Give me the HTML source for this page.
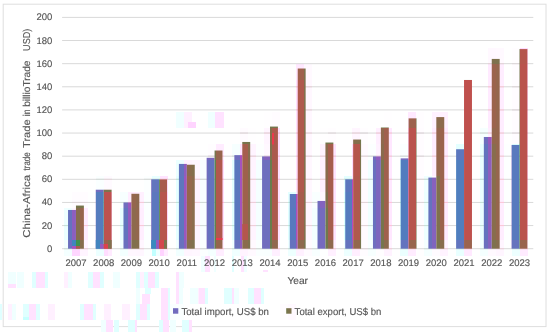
<!DOCTYPE html>
<html><head><meta charset="utf-8"><title>China-Africa trade</title>
<style>html,body{margin:0;padding:0;background:#fff}svg{display:block}text{font-family:"Liberation Sans",sans-serif;fill:#575757;stroke:#575757;stroke-width:0.15px;text-rendering:geometricPrecision}</style></head>
<body>
<svg width="550" height="332" viewBox="0 0 550 332">
<rect x="0" y="0" width="550" height="332" fill="#fff"/>
<rect x="3.2" y="4.2" width="542.8" height="322.4" fill="#fff" stroke="#dedede" stroke-width="1"/>
<g shape-rendering="crispEdges">
<rect x="64" y="208" width="8" height="16" fill="#eeffff"/>
<rect x="64" y="224" width="8" height="16" fill="#ebffff"/>
<rect x="64" y="240" width="8" height="16" fill="#f4ffff"/>
<rect x="72" y="192" width="8" height="16" fill="#fffcff"/>
<rect x="72" y="208" width="8" height="16" fill="#fff4ff"/>
<rect x="72" y="224" width="8" height="16" fill="#fff5ff"/>
<rect x="72" y="240" width="8" height="16" fill="#fff9ff"/>
<rect x="80" y="192" width="8" height="16" fill="#fffcff"/>
<rect x="80" y="208" width="8" height="32" fill="#ffecff"/>
<rect x="80" y="240" width="8" height="16" fill="#fff4ff"/>
<rect x="88" y="192" width="8" height="48" fill="#feffff"/>
<rect x="96" y="176" width="8" height="16" fill="#faffff"/>
<rect x="96" y="192" width="8" height="48" fill="#dcffff"/>
<rect x="96" y="240" width="8" height="16" fill="#ecffff"/>
<rect x="104" y="176" width="8" height="16" fill="#fffaff"/>
<rect x="104" y="192" width="8" height="48" fill="#ffd9ff"/>
<rect x="104" y="240" width="8" height="16" fill="#ffeaff"/>
<rect x="120" y="192" width="8" height="16" fill="#f7ffff"/>
<rect x="120" y="208" width="8" height="32" fill="#e8ffff"/>
<rect x="120" y="240" width="8" height="16" fill="#f3ffff"/>
<rect x="128" y="192" width="8" height="16" fill="#ffedff"/>
<rect x="128" y="208" width="8" height="32" fill="#fff1ff"/>
<rect x="128" y="240" width="8" height="16" fill="#fff7ff"/>
<rect x="136" y="192" width="8" height="16" fill="#fff0ff"/>
<rect x="136" y="208" width="8" height="32" fill="#ffeeff"/>
<rect x="136" y="240" width="8" height="16" fill="#fff6ff"/>
<rect x="144" y="176" width="8" height="16" fill="#fcffff"/>
<rect x="144" y="192" width="8" height="48" fill="#fbffff"/>
<rect x="144" y="240" width="8" height="16" fill="#fdffff"/>
<rect x="152" y="176" width="8" height="16" fill="#e9ffff"/>
<rect x="152" y="192" width="8" height="48" fill="#e4ffff"/>
<rect x="152" y="240" width="8" height="16" fill="#f0ffff"/>
<rect x="160" y="176" width="8" height="16" fill="#ffe3ff"/>
<rect x="160" y="192" width="8" height="48" fill="#ffdcff"/>
<rect x="160" y="240" width="8" height="16" fill="#ffecff"/>
<rect x="168" y="304" width="8" height="16" fill="#faffff"/>
<rect x="176" y="160" width="8" height="16" fill="#ecffff"/>
<rect x="176" y="176" width="8" height="64" fill="#e5ffff"/>
<rect x="176" y="240" width="8" height="16" fill="#f1ffff"/>
<rect x="176" y="304" width="8" height="16" fill="#fbffff"/>
<rect x="184" y="160" width="8" height="16" fill="#fff2ff"/>
<rect x="184" y="176" width="8" height="64" fill="#ffecff"/>
<rect x="184" y="240" width="8" height="16" fill="#fff5ff"/>
<rect x="192" y="160" width="8" height="16" fill="#fff5ff"/>
<rect x="192" y="176" width="8" height="64" fill="#fff1ff"/>
<rect x="192" y="240" width="8" height="16" fill="#fff7ff"/>
<rect x="200" y="160" width="8" height="80" fill="#f8ffff"/>
<rect x="200" y="240" width="8" height="16" fill="#fbffff"/>
<rect x="208" y="144" width="8" height="16" fill="#fffdff"/>
<rect x="208" y="160" width="8" height="80" fill="#ecffff"/>
<rect x="208" y="240" width="8" height="16" fill="#f5ffff"/>
<rect x="216" y="144" width="8" height="16" fill="#ffecff"/>
<rect x="216" y="160" width="8" height="80" fill="#ffdeff"/>
<rect x="216" y="240" width="8" height="16" fill="#ffedff"/>
<rect x="232" y="144" width="8" height="16" fill="#f6ffff"/>
<rect x="232" y="160" width="8" height="80" fill="#e3ffff"/>
<rect x="232" y="240" width="8" height="16" fill="#f0ffff"/>
<rect x="240" y="128" width="8" height="16" fill="#fffbff"/>
<rect x="240" y="144" width="8" height="16" fill="#ffe4ff"/>
<rect x="240" y="160" width="8" height="80" fill="#ffe8ff"/>
<rect x="240" y="240" width="8" height="16" fill="#fff3ff"/>
<rect x="248" y="128" width="8" height="16" fill="#fffeff"/>
<rect x="248" y="144" width="8" height="96" fill="#fff4ff"/>
<rect x="248" y="240" width="8" height="16" fill="#fff9ff"/>
<rect x="256" y="144" width="8" height="16" fill="#fdffff"/>
<rect x="256" y="160" width="8" height="80" fill="#f5ffff"/>
<rect x="256" y="240" width="8" height="16" fill="#faffff"/>
<rect x="264" y="112" width="8" height="16" fill="#fffeff"/>
<rect x="264" y="128" width="8" height="16" fill="#fff5ff"/>
<rect x="264" y="144" width="8" height="16" fill="#fff8ff"/>
<rect x="264" y="160" width="8" height="80" fill="#f5ffff"/>
<rect x="264" y="240" width="8" height="16" fill="#f9ffff"/>
<rect x="272" y="112" width="8" height="16" fill="#fffcff"/>
<rect x="272" y="128" width="8" height="112" fill="#ffe1ff"/>
<rect x="272" y="240" width="8" height="16" fill="#ffefff"/>
<rect x="280" y="304" width="8" height="16" fill="#fffcff"/>
<rect x="288" y="192" width="8" height="16" fill="#e4ffff"/>
<rect x="288" y="208" width="8" height="32" fill="#e0ffff"/>
<rect x="288" y="240" width="8" height="16" fill="#eeffff"/>
<rect x="288" y="304" width="8" height="16" fill="#fff9ff"/>
<rect x="296" y="64" width="8" height="16" fill="#ffe8ff"/>
<rect x="296" y="80" width="8" height="112" fill="#ffdfff"/>
<rect x="296" y="192" width="8" height="16" fill="#ffe3ff"/>
<rect x="296" y="208" width="8" height="32" fill="#ffe4ff"/>
<rect x="296" y="240" width="8" height="16" fill="#fff0ff"/>
<rect x="304" y="64" width="8" height="16" fill="#fff9ff"/>
<rect x="304" y="80" width="8" height="160" fill="#fff7ff"/>
<rect x="304" y="240" width="8" height="16" fill="#fffbff"/>
<rect x="312" y="192" width="8" height="16" fill="#f9ffff"/>
<rect x="312" y="208" width="8" height="32" fill="#f3ffff"/>
<rect x="312" y="240" width="8" height="16" fill="#f8ffff"/>
<rect x="320" y="128" width="8" height="16" fill="#fffeff"/>
<rect x="320" y="144" width="8" height="48" fill="#fff2ff"/>
<rect x="320" y="192" width="8" height="16" fill="#fff8ff"/>
<rect x="320" y="208" width="8" height="32" fill="#fdffff"/>
<rect x="320" y="240" width="8" height="16" fill="#feffff"/>
<rect x="328" y="128" width="8" height="16" fill="#fffdff"/>
<rect x="328" y="144" width="8" height="96" fill="#ffe4ff"/>
<rect x="328" y="240" width="8" height="16" fill="#fff0ff"/>
<rect x="344" y="176" width="8" height="16" fill="#e4ffff"/>
<rect x="344" y="192" width="8" height="48" fill="#ddffff"/>
<rect x="344" y="240" width="8" height="16" fill="#edffff"/>
<rect x="352" y="128" width="8" height="16" fill="#fff5ff"/>
<rect x="352" y="144" width="8" height="32" fill="#ffddff"/>
<rect x="352" y="176" width="8" height="16" fill="#ffdfff"/>
<rect x="352" y="192" width="8" height="48" fill="#ffe0ff"/>
<rect x="352" y="240" width="8" height="16" fill="#ffeeff"/>
<rect x="360" y="128" width="8" height="16" fill="#fffdff"/>
<rect x="360" y="144" width="8" height="96" fill="#fffaff"/>
<rect x="360" y="240" width="8" height="16" fill="#fffcff"/>
<rect x="368" y="144" width="8" height="16" fill="#fcffff"/>
<rect x="368" y="160" width="8" height="80" fill="#f0ffff"/>
<rect x="368" y="240" width="8" height="16" fill="#f7ffff"/>
<rect x="376" y="128" width="8" height="16" fill="#ffefff"/>
<rect x="376" y="144" width="8" height="16" fill="#fff2ff"/>
<rect x="376" y="160" width="8" height="80" fill="#fffcff"/>
<rect x="376" y="240" width="8" height="16" fill="#fffdff"/>
<rect x="384" y="112" width="8" height="16" fill="#fffeff"/>
<rect x="384" y="128" width="8" height="112" fill="#ffe7ff"/>
<rect x="384" y="240" width="8" height="16" fill="#fff2ff"/>
<rect x="400" y="144" width="8" height="16" fill="#fbffff"/>
<rect x="400" y="160" width="8" height="80" fill="#daffff"/>
<rect x="400" y="240" width="8" height="16" fill="#ebffff"/>
<rect x="408" y="112" width="8" height="16" fill="#ffe9ff"/>
<rect x="408" y="128" width="8" height="32" fill="#ffdaff"/>
<rect x="408" y="160" width="8" height="80" fill="#ffdbff"/>
<rect x="408" y="240" width="8" height="16" fill="#ffecff"/>
<rect x="416" y="112" width="8" height="16" fill="#fffdff"/>
<rect x="416" y="128" width="8" height="112" fill="#fffcff"/>
<rect x="416" y="240" width="8" height="16" fill="#fffeff"/>
<rect x="424" y="176" width="8" height="16" fill="#efffff"/>
<rect x="424" y="192" width="8" height="48" fill="#edffff"/>
<rect x="424" y="240" width="8" height="16" fill="#f5ffff"/>
<rect x="432" y="112" width="8" height="16" fill="#fff2ff"/>
<rect x="432" y="128" width="8" height="48" fill="#ffedff"/>
<rect x="432" y="176" width="8" height="16" fill="#fff7ff"/>
<rect x="432" y="192" width="8" height="48" fill="#fff8ff"/>
<rect x="432" y="240" width="8" height="16" fill="#fffbff"/>
<rect x="440" y="112" width="8" height="16" fill="#fff0ff"/>
<rect x="440" y="128" width="8" height="112" fill="#ffeaff"/>
<rect x="440" y="240" width="8" height="16" fill="#fff3ff"/>
<rect x="456" y="144" width="8" height="16" fill="#e4ffff"/>
<rect x="456" y="160" width="8" height="80" fill="#d7ffff"/>
<rect x="456" y="240" width="8" height="16" fill="#e9ffff"/>
<rect x="464" y="80" width="8" height="160" fill="#ffd7ff"/>
<rect x="464" y="240" width="8" height="16" fill="#ffe9ff"/>
<rect x="480" y="128" width="8" height="16" fill="#f6ffff"/>
<rect x="480" y="144" width="8" height="96" fill="#eaffff"/>
<rect x="480" y="240" width="8" height="16" fill="#f4ffff"/>
<rect x="488" y="48" width="8" height="16" fill="#fff8ff"/>
<rect x="488" y="64" width="8" height="64" fill="#ffeaff"/>
<rect x="488" y="128" width="8" height="16" fill="#ffeeff"/>
<rect x="488" y="144" width="8" height="96" fill="#fff3ff"/>
<rect x="488" y="240" width="8" height="16" fill="#fff9ff"/>
<rect x="496" y="48" width="8" height="16" fill="#fff9ff"/>
<rect x="496" y="64" width="8" height="176" fill="#ffedff"/>
<rect x="496" y="240" width="8" height="16" fill="#fff5ff"/>
<rect x="504" y="144" width="8" height="96" fill="#fdffff"/>
<rect x="504" y="240" width="8" height="16" fill="#feffff"/>
<rect x="512" y="48" width="8" height="16" fill="#fffdff"/>
<rect x="512" y="64" width="8" height="80" fill="#fffcff"/>
<rect x="512" y="144" width="8" height="16" fill="#e1ffff"/>
<rect x="512" y="160" width="8" height="80" fill="#dfffff"/>
<rect x="512" y="240" width="8" height="16" fill="#edffff"/>
<rect x="520" y="48" width="8" height="16" fill="#ffdcff"/>
<rect x="520" y="64" width="8" height="176" fill="#ffdaff"/>
<rect x="520" y="240" width="8" height="16" fill="#ffebff"/>
<rect x="8" y="272" width="8" height="12" fill="#f0ffff"/>
<rect x="8" y="284" width="8" height="4" fill="#ffe2ff"/>
<rect x="17" y="272" width="7" height="16" fill="#f0ffff"/>
<rect x="32" y="272" width="4" height="16" fill="#e0ffff"/>
<rect x="36" y="272" width="8.5" height="16" fill="#ffe2ff"/>
<rect x="44.5" y="272" width="3.5" height="16" fill="#e0ffff"/>
<rect x="64" y="272" width="4" height="16" fill="#fff0ff"/>
<rect x="68" y="272" width="4" height="16" fill="#f0ffff"/>
<rect x="88" y="272" width="5" height="16" fill="#e0ffff"/>
<rect x="93" y="272" width="7" height="16" fill="#ffe2ff"/>
<rect x="100" y="272" width="4" height="16" fill="#e0ffff"/>
<rect x="113" y="272" width="7" height="16" fill="#f0ffff"/>
<rect x="136" y="272" width="4" height="16" fill="#e0ffff"/>
<rect x="140" y="272" width="4" height="16" fill="#fff0ff"/>
<rect x="144" y="272" width="4" height="16" fill="#e0ffff"/>
<rect x="148" y="272" width="7" height="16" fill="#ffe2ff"/>
<rect x="155" y="272" width="4" height="16" fill="#e0ffff"/>
<rect x="176" y="272" width="3" height="16" fill="#ffe2ff"/>
<rect x="179" y="272" width="5" height="16" fill="#f0ffff"/>
<rect x="136" y="288" width="4" height="16" fill="#f0ffff"/>
<rect x="142" y="294" width="8" height="10" fill="#ffe2ff"/>
<rect x="145" y="288" width="6" height="6" fill="#e0ffff"/>
<rect x="161" y="288" width="7" height="16" fill="#ffe2ff"/>
<rect x="168" y="288" width="2" height="16" fill="#e0ffff"/>
<rect x="176" y="288" width="3" height="16" fill="#ffe2ff"/>
<rect x="179" y="288" width="4" height="16" fill="#f0ffff"/>
<rect x="198" y="288" width="4" height="16" fill="#fff0ff"/>
<rect x="203" y="288" width="5" height="16" fill="#f0ffff"/>
<rect x="0" y="304" width="2" height="16" fill="#e0ffff"/>
<rect x="8" y="304" width="4" height="16" fill="#fff0ff"/>
<rect x="12" y="304" width="4" height="16" fill="#f0ffff"/>
<rect x="23" y="304" width="6" height="13" fill="#e0ffff"/>
<rect x="23" y="317" width="6" height="3" fill="#c8ffff"/>
<rect x="29" y="304" width="7" height="16" fill="#ffe2ff"/>
<rect x="36" y="304" width="4" height="16" fill="#e0ffff"/>
<rect x="48" y="304" width="7" height="16" fill="#fff0ff"/>
<rect x="79.5" y="304" width="4.5" height="16" fill="#e0ffff"/>
<rect x="84" y="304" width="9" height="16" fill="#ffe2ff"/>
<rect x="93" y="304" width="3" height="16" fill="#e0ffff"/>
<rect x="104" y="304" width="7" height="16" fill="#fff0ff"/>
<rect x="122" y="304" width="8" height="16" fill="#fff0ff"/>
<rect x="136" y="304" width="4" height="16" fill="#e0ffff"/>
<rect x="140" y="304" width="7" height="16" fill="#ffe2ff"/>
<rect x="147" y="304" width="3" height="16" fill="#e0ffff"/>
<rect x="161" y="304" width="7" height="16" fill="#ffe2ff"/>
<rect x="168" y="304" width="2" height="16" fill="#e0ffff"/>
<rect x="176" y="112" width="8" height="16" fill="#f0ffff"/>
<rect x="184" y="112" width="8" height="16" fill="#fff0ff"/>
<rect x="188" y="122" width="8" height="6" fill="#ffd4ff"/>
<rect x="208" y="112" width="7" height="16" fill="#f0ffff"/>
<rect x="215" y="112" width="9" height="16" fill="#ffe2ff"/>
<rect x="201" y="256" width="4" height="16" fill="#f0ffff"/>
<rect x="205" y="256" width="5" height="16" fill="#ffe2ff"/>
<rect x="214" y="256" width="2" height="16" fill="#f0ffff"/>
<rect x="232" y="256" width="2" height="16" fill="#e0ffff"/>
<rect x="241" y="256" width="3" height="16" fill="#ffe2ff"/>
<rect x="244" y="256" width="3" height="16" fill="#f0ffff"/>
<rect x="263" y="270" width="5" height="2" fill="#ffe2ff"/>
<rect x="190" y="288" width="8" height="16" fill="#f0ffff"/>
<rect x="199" y="288" width="6" height="16" fill="#ffe2ff"/>
<rect x="205" y="288" width="3" height="16" fill="#e0ffff"/>
<rect x="224" y="288" width="8" height="16" fill="#e0ffff"/>
<rect x="232" y="288" width="2" height="16" fill="#ffe2ff"/>
<rect x="234" y="288" width="5" height="16" fill="#f0ffff"/>
<rect x="248" y="288" width="6" height="16" fill="#e0ffff"/>
<rect x="254" y="288" width="7" height="16" fill="#ffe2ff"/>
<rect x="261" y="288" width="3" height="16" fill="#e0ffff"/>
<rect x="101" y="320" width="5" height="12" fill="#f0ffff"/>
<rect x="106" y="320" width="7" height="12" fill="#ffe2ff"/>
<rect x="114" y="320" width="5" height="12" fill="#e0ffff"/>
<rect x="128" y="320" width="7" height="12" fill="#e0ffff"/>
<rect x="135" y="320" width="2" height="12" fill="#ffe2ff"/>
<rect x="159" y="320" width="4" height="12" fill="#e0ffff"/>
<rect x="163" y="320" width="6" height="12" fill="#ffe2ff"/>
<rect x="170" y="320" width="6" height="12" fill="#f0ffff"/>
<rect x="182" y="320" width="7" height="12" fill="#e0ffff"/>
<rect x="189" y="320" width="3" height="12" fill="#ffe2ff"/>
<rect x="72" y="248.7" width="8" height="7.3" fill="#ffd6ff"/>
<rect x="104" y="248.7" width="4" height="7.3" fill="#ffddff"/>
<rect x="152" y="248.7" width="4" height="7.3" fill="#c1ffff"/>
<rect x="160" y="248.7" width="4" height="7.3" fill="#ffd3ff"/>
</g>
<line x1="62.1" y1="248.70" x2="533.3" y2="248.70" stroke="#d9d9d9" stroke-width="1"/>
<line x1="62.1" y1="225.57" x2="533.3" y2="225.57" stroke="#d9d9d9" stroke-width="1"/>
<line x1="62.1" y1="202.44" x2="533.3" y2="202.44" stroke="#d9d9d9" stroke-width="1"/>
<line x1="62.1" y1="179.31" x2="533.3" y2="179.31" stroke="#d9d9d9" stroke-width="1"/>
<line x1="62.1" y1="156.18" x2="533.3" y2="156.18" stroke="#d9d9d9" stroke-width="1"/>
<line x1="62.1" y1="133.05" x2="533.3" y2="133.05" stroke="#d9d9d9" stroke-width="1"/>
<line x1="62.1" y1="109.92" x2="533.3" y2="109.92" stroke="#d9d9d9" stroke-width="1"/>
<line x1="62.1" y1="86.79" x2="533.3" y2="86.79" stroke="#d9d9d9" stroke-width="1"/>
<line x1="62.1" y1="63.66" x2="533.3" y2="63.66" stroke="#d9d9d9" stroke-width="1"/>
<line x1="62.1" y1="40.53" x2="533.3" y2="40.53" stroke="#d9d9d9" stroke-width="1"/>
<line x1="62.1" y1="17.40" x2="533.3" y2="17.40" stroke="#d9d9d9" stroke-width="1"/>
<line x1="64.0" y1="225.57" x2="72.0" y2="225.57" stroke="#c5e3d9" stroke-width="1"/>
<line x1="64.0" y1="248.70" x2="72.0" y2="248.70" stroke="#cedfd9" stroke-width="1"/>
<line x1="72.0" y1="202.44" x2="80.0" y2="202.44" stroke="#dfd6d9" stroke-width="1"/>
<line x1="72.0" y1="225.57" x2="80.0" y2="225.57" stroke="#edcfd9" stroke-width="1"/>
<line x1="72.0" y1="248.70" x2="80.0" y2="248.70" stroke="#e4d3d9" stroke-width="1"/>
<line x1="80.0" y1="202.44" x2="88.0" y2="202.44" stroke="#dfd6d9" stroke-width="1"/>
<line x1="80.0" y1="225.57" x2="88.0" y2="225.57" stroke="#ffc6d9" stroke-width="1"/>
<line x1="80.0" y1="248.70" x2="88.0" y2="248.70" stroke="#eeced9" stroke-width="1"/>
<line x1="96.0" y1="179.31" x2="104.0" y2="179.31" stroke="#d4dcd9" stroke-width="1"/>
<line x1="96.0" y1="202.44" x2="104.0" y2="202.44" stroke="#b6ebd9" stroke-width="1"/>
<line x1="96.0" y1="225.57" x2="104.0" y2="225.57" stroke="#b6ebd9" stroke-width="1"/>
<line x1="96.0" y1="248.70" x2="104.0" y2="248.70" stroke="#c6e3d9" stroke-width="1"/>
<line x1="104.0" y1="179.31" x2="112.0" y2="179.31" stroke="#e4d4d9" stroke-width="1"/>
<line x1="104.0" y1="202.44" x2="112.0" y2="202.44" stroke="#ffb3d9" stroke-width="1"/>
<line x1="104.0" y1="225.57" x2="112.0" y2="225.57" stroke="#ffb3d9" stroke-width="1"/>
<line x1="104.0" y1="248.70" x2="112.0" y2="248.70" stroke="#ffc4d9" stroke-width="1"/>
<line x1="120.0" y1="202.44" x2="128.0" y2="202.44" stroke="#d1ddd9" stroke-width="1"/>
<line x1="120.0" y1="225.57" x2="128.0" y2="225.57" stroke="#c2e5d9" stroke-width="1"/>
<line x1="120.0" y1="248.70" x2="128.0" y2="248.70" stroke="#cddfd9" stroke-width="1"/>
<line x1="128.0" y1="202.44" x2="136.0" y2="202.44" stroke="#fbc7d9" stroke-width="1"/>
<line x1="128.0" y1="225.57" x2="136.0" y2="225.57" stroke="#f5cbd9" stroke-width="1"/>
<line x1="128.0" y1="248.70" x2="136.0" y2="248.70" stroke="#e8d1d9" stroke-width="1"/>
<line x1="136.0" y1="202.44" x2="144.0" y2="202.44" stroke="#f6cad9" stroke-width="1"/>
<line x1="136.0" y1="225.57" x2="144.0" y2="225.57" stroke="#fac8d9" stroke-width="1"/>
<line x1="136.0" y1="248.70" x2="144.0" y2="248.70" stroke="#ebd0d9" stroke-width="1"/>
<line x1="144.0" y1="179.31" x2="152.0" y2="179.31" stroke="#d6dbd9" stroke-width="1"/>
<line x1="144.0" y1="202.44" x2="152.0" y2="202.44" stroke="#d5dbd9" stroke-width="1"/>
<line x1="144.0" y1="225.57" x2="152.0" y2="225.57" stroke="#d5dbd9" stroke-width="1"/>
<line x1="152.0" y1="179.31" x2="160.0" y2="179.31" stroke="#c3e4d9" stroke-width="1"/>
<line x1="152.0" y1="202.44" x2="160.0" y2="202.44" stroke="#bee7d9" stroke-width="1"/>
<line x1="152.0" y1="225.57" x2="160.0" y2="225.57" stroke="#bee7d9" stroke-width="1"/>
<line x1="152.0" y1="248.70" x2="160.0" y2="248.70" stroke="#cae1d9" stroke-width="1"/>
<line x1="160.0" y1="179.31" x2="168.0" y2="179.31" stroke="#ffbdd9" stroke-width="1"/>
<line x1="160.0" y1="202.44" x2="168.0" y2="202.44" stroke="#ffb6d9" stroke-width="1"/>
<line x1="160.0" y1="225.57" x2="168.0" y2="225.57" stroke="#ffb6d9" stroke-width="1"/>
<line x1="160.0" y1="248.70" x2="168.0" y2="248.70" stroke="#ffc6d9" stroke-width="1"/>
<line x1="176.0" y1="179.31" x2="184.0" y2="179.31" stroke="#bfe6d9" stroke-width="1"/>
<line x1="176.0" y1="202.44" x2="184.0" y2="202.44" stroke="#bfe6d9" stroke-width="1"/>
<line x1="176.0" y1="225.57" x2="184.0" y2="225.57" stroke="#bfe6d9" stroke-width="1"/>
<line x1="176.0" y1="248.70" x2="184.0" y2="248.70" stroke="#cbe0d9" stroke-width="1"/>
<line x1="184.0" y1="179.31" x2="192.0" y2="179.31" stroke="#fec6d9" stroke-width="1"/>
<line x1="184.0" y1="202.44" x2="192.0" y2="202.44" stroke="#fec6d9" stroke-width="1"/>
<line x1="184.0" y1="225.57" x2="192.0" y2="225.57" stroke="#fec6d9" stroke-width="1"/>
<line x1="184.0" y1="248.70" x2="192.0" y2="248.70" stroke="#edcfd9" stroke-width="1"/>
<line x1="192.0" y1="179.31" x2="200.0" y2="179.31" stroke="#f4cbd9" stroke-width="1"/>
<line x1="192.0" y1="202.44" x2="200.0" y2="202.44" stroke="#f4cbd9" stroke-width="1"/>
<line x1="192.0" y1="225.57" x2="200.0" y2="225.57" stroke="#f4cbd9" stroke-width="1"/>
<line x1="192.0" y1="248.70" x2="200.0" y2="248.70" stroke="#e8d1d9" stroke-width="1"/>
<line x1="200.0" y1="179.31" x2="208.0" y2="179.31" stroke="#d2dcd9" stroke-width="1"/>
<line x1="200.0" y1="202.44" x2="208.0" y2="202.44" stroke="#d2dcd9" stroke-width="1"/>
<line x1="200.0" y1="225.57" x2="208.0" y2="225.57" stroke="#d2dcd9" stroke-width="1"/>
<line x1="200.0" y1="248.70" x2="208.0" y2="248.70" stroke="#d5dbd9" stroke-width="1"/>
<line x1="208.0" y1="156.18" x2="216.0" y2="156.18" stroke="#ddd7d9" stroke-width="1"/>
<line x1="208.0" y1="179.31" x2="216.0" y2="179.31" stroke="#c6e3d9" stroke-width="1"/>
<line x1="208.0" y1="202.44" x2="216.0" y2="202.44" stroke="#c6e3d9" stroke-width="1"/>
<line x1="208.0" y1="225.57" x2="216.0" y2="225.57" stroke="#c6e3d9" stroke-width="1"/>
<line x1="208.0" y1="248.70" x2="216.0" y2="248.70" stroke="#cfded9" stroke-width="1"/>
<line x1="216.0" y1="156.18" x2="224.0" y2="156.18" stroke="#ffc6d9" stroke-width="1"/>
<line x1="216.0" y1="179.31" x2="224.0" y2="179.31" stroke="#ffb8d9" stroke-width="1"/>
<line x1="216.0" y1="202.44" x2="224.0" y2="202.44" stroke="#ffb8d9" stroke-width="1"/>
<line x1="216.0" y1="225.57" x2="224.0" y2="225.57" stroke="#ffb8d9" stroke-width="1"/>
<line x1="216.0" y1="248.70" x2="224.0" y2="248.70" stroke="#fcc7d9" stroke-width="1"/>
<line x1="232.0" y1="156.18" x2="240.0" y2="156.18" stroke="#d0ddd9" stroke-width="1"/>
<line x1="232.0" y1="179.31" x2="240.0" y2="179.31" stroke="#bde7d9" stroke-width="1"/>
<line x1="232.0" y1="202.44" x2="240.0" y2="202.44" stroke="#bde7d9" stroke-width="1"/>
<line x1="232.0" y1="225.57" x2="240.0" y2="225.57" stroke="#bde7d9" stroke-width="1"/>
<line x1="232.0" y1="248.70" x2="240.0" y2="248.70" stroke="#cae1d9" stroke-width="1"/>
<line x1="240.0" y1="133.05" x2="248.0" y2="133.05" stroke="#e0d5d9" stroke-width="1"/>
<line x1="240.0" y1="156.18" x2="248.0" y2="156.18" stroke="#ffbed9" stroke-width="1"/>
<line x1="240.0" y1="179.31" x2="248.0" y2="179.31" stroke="#ffc2d9" stroke-width="1"/>
<line x1="240.0" y1="202.44" x2="248.0" y2="202.44" stroke="#ffc2d9" stroke-width="1"/>
<line x1="240.0" y1="225.57" x2="248.0" y2="225.57" stroke="#ffc2d9" stroke-width="1"/>
<line x1="240.0" y1="248.70" x2="248.0" y2="248.70" stroke="#f1cdd9" stroke-width="1"/>
<line x1="248.0" y1="156.18" x2="256.0" y2="156.18" stroke="#efced9" stroke-width="1"/>
<line x1="248.0" y1="179.31" x2="256.0" y2="179.31" stroke="#efced9" stroke-width="1"/>
<line x1="248.0" y1="202.44" x2="256.0" y2="202.44" stroke="#efced9" stroke-width="1"/>
<line x1="248.0" y1="225.57" x2="256.0" y2="225.57" stroke="#efced9" stroke-width="1"/>
<line x1="248.0" y1="248.70" x2="256.0" y2="248.70" stroke="#e5d3d9" stroke-width="1"/>
<line x1="256.0" y1="179.31" x2="264.0" y2="179.31" stroke="#cfded9" stroke-width="1"/>
<line x1="256.0" y1="202.44" x2="264.0" y2="202.44" stroke="#cfded9" stroke-width="1"/>
<line x1="256.0" y1="225.57" x2="264.0" y2="225.57" stroke="#cfded9" stroke-width="1"/>
<line x1="256.0" y1="248.70" x2="264.0" y2="248.70" stroke="#d4dcd9" stroke-width="1"/>
<line x1="264.0" y1="133.05" x2="272.0" y2="133.05" stroke="#edcfd9" stroke-width="1"/>
<line x1="264.0" y1="156.18" x2="272.0" y2="156.18" stroke="#e6d2d9" stroke-width="1"/>
<line x1="264.0" y1="179.31" x2="272.0" y2="179.31" stroke="#cfded9" stroke-width="1"/>
<line x1="264.0" y1="202.44" x2="272.0" y2="202.44" stroke="#cfded9" stroke-width="1"/>
<line x1="264.0" y1="225.57" x2="272.0" y2="225.57" stroke="#cfded9" stroke-width="1"/>
<line x1="264.0" y1="248.70" x2="272.0" y2="248.70" stroke="#d3dcd9" stroke-width="1"/>
<line x1="272.0" y1="133.05" x2="280.0" y2="133.05" stroke="#ffbbd9" stroke-width="1"/>
<line x1="272.0" y1="156.18" x2="280.0" y2="156.18" stroke="#ffbbd9" stroke-width="1"/>
<line x1="272.0" y1="179.31" x2="280.0" y2="179.31" stroke="#ffbbd9" stroke-width="1"/>
<line x1="272.0" y1="202.44" x2="280.0" y2="202.44" stroke="#ffbbd9" stroke-width="1"/>
<line x1="272.0" y1="225.57" x2="280.0" y2="225.57" stroke="#ffbbd9" stroke-width="1"/>
<line x1="272.0" y1="248.70" x2="280.0" y2="248.70" stroke="#f9c9d9" stroke-width="1"/>
<line x1="288.0" y1="202.44" x2="296.0" y2="202.44" stroke="#bee7d9" stroke-width="1"/>
<line x1="288.0" y1="225.57" x2="296.0" y2="225.57" stroke="#bae9d9" stroke-width="1"/>
<line x1="288.0" y1="248.70" x2="296.0" y2="248.70" stroke="#c8e2d9" stroke-width="1"/>
<line x1="296.0" y1="86.79" x2="304.0" y2="86.79" stroke="#ffb9d9" stroke-width="1"/>
<line x1="296.0" y1="109.92" x2="304.0" y2="109.92" stroke="#ffb9d9" stroke-width="1"/>
<line x1="296.0" y1="133.05" x2="304.0" y2="133.05" stroke="#ffb9d9" stroke-width="1"/>
<line x1="296.0" y1="156.18" x2="304.0" y2="156.18" stroke="#ffb9d9" stroke-width="1"/>
<line x1="296.0" y1="179.31" x2="304.0" y2="179.31" stroke="#ffb9d9" stroke-width="1"/>
<line x1="296.0" y1="202.44" x2="304.0" y2="202.44" stroke="#ffbdd9" stroke-width="1"/>
<line x1="296.0" y1="225.57" x2="304.0" y2="225.57" stroke="#ffbed9" stroke-width="1"/>
<line x1="296.0" y1="248.70" x2="304.0" y2="248.70" stroke="#f6cad9" stroke-width="1"/>
<line x1="304.0" y1="86.79" x2="312.0" y2="86.79" stroke="#e9d1d9" stroke-width="1"/>
<line x1="304.0" y1="109.92" x2="312.0" y2="109.92" stroke="#e9d1d9" stroke-width="1"/>
<line x1="304.0" y1="133.05" x2="312.0" y2="133.05" stroke="#e9d1d9" stroke-width="1"/>
<line x1="304.0" y1="156.18" x2="312.0" y2="156.18" stroke="#e9d1d9" stroke-width="1"/>
<line x1="304.0" y1="179.31" x2="312.0" y2="179.31" stroke="#e9d1d9" stroke-width="1"/>
<line x1="304.0" y1="202.44" x2="312.0" y2="202.44" stroke="#e9d1d9" stroke-width="1"/>
<line x1="304.0" y1="225.57" x2="312.0" y2="225.57" stroke="#e9d1d9" stroke-width="1"/>
<line x1="304.0" y1="248.70" x2="312.0" y2="248.70" stroke="#e2d5d9" stroke-width="1"/>
<line x1="312.0" y1="202.44" x2="320.0" y2="202.44" stroke="#d3dcd9" stroke-width="1"/>
<line x1="312.0" y1="225.57" x2="320.0" y2="225.57" stroke="#cddfd9" stroke-width="1"/>
<line x1="312.0" y1="248.70" x2="320.0" y2="248.70" stroke="#d2dcd9" stroke-width="1"/>
<line x1="320.0" y1="156.18" x2="328.0" y2="156.18" stroke="#f2ccd9" stroke-width="1"/>
<line x1="320.0" y1="179.31" x2="328.0" y2="179.31" stroke="#f2ccd9" stroke-width="1"/>
<line x1="320.0" y1="202.44" x2="328.0" y2="202.44" stroke="#e6d2d9" stroke-width="1"/>
<line x1="328.0" y1="133.05" x2="336.0" y2="133.05" stroke="#ded7d9" stroke-width="1"/>
<line x1="328.0" y1="156.18" x2="336.0" y2="156.18" stroke="#ffbed9" stroke-width="1"/>
<line x1="328.0" y1="179.31" x2="336.0" y2="179.31" stroke="#ffbed9" stroke-width="1"/>
<line x1="328.0" y1="202.44" x2="336.0" y2="202.44" stroke="#ffbed9" stroke-width="1"/>
<line x1="328.0" y1="225.57" x2="336.0" y2="225.57" stroke="#ffbed9" stroke-width="1"/>
<line x1="328.0" y1="248.70" x2="336.0" y2="248.70" stroke="#f6cad9" stroke-width="1"/>
<line x1="344.0" y1="179.31" x2="352.0" y2="179.31" stroke="#bee7d9" stroke-width="1"/>
<line x1="344.0" y1="202.44" x2="352.0" y2="202.44" stroke="#b7ead9" stroke-width="1"/>
<line x1="344.0" y1="225.57" x2="352.0" y2="225.57" stroke="#b7ead9" stroke-width="1"/>
<line x1="344.0" y1="248.70" x2="352.0" y2="248.70" stroke="#c7e2d9" stroke-width="1"/>
<line x1="352.0" y1="133.05" x2="360.0" y2="133.05" stroke="#eccfd9" stroke-width="1"/>
<line x1="352.0" y1="156.18" x2="360.0" y2="156.18" stroke="#ffb7d9" stroke-width="1"/>
<line x1="352.0" y1="179.31" x2="360.0" y2="179.31" stroke="#ffb9d9" stroke-width="1"/>
<line x1="352.0" y1="202.44" x2="360.0" y2="202.44" stroke="#ffbad9" stroke-width="1"/>
<line x1="352.0" y1="225.57" x2="360.0" y2="225.57" stroke="#ffbad9" stroke-width="1"/>
<line x1="352.0" y1="248.70" x2="360.0" y2="248.70" stroke="#fac8d9" stroke-width="1"/>
<line x1="360.0" y1="133.05" x2="368.0" y2="133.05" stroke="#dcd7d9" stroke-width="1"/>
<line x1="360.0" y1="156.18" x2="368.0" y2="156.18" stroke="#e4d4d9" stroke-width="1"/>
<line x1="360.0" y1="179.31" x2="368.0" y2="179.31" stroke="#e4d4d9" stroke-width="1"/>
<line x1="360.0" y1="202.44" x2="368.0" y2="202.44" stroke="#e4d4d9" stroke-width="1"/>
<line x1="360.0" y1="225.57" x2="368.0" y2="225.57" stroke="#e4d4d9" stroke-width="1"/>
<line x1="360.0" y1="248.70" x2="368.0" y2="248.70" stroke="#dfd6d9" stroke-width="1"/>
<line x1="368.0" y1="156.18" x2="376.0" y2="156.18" stroke="#d6dbd9" stroke-width="1"/>
<line x1="368.0" y1="179.31" x2="376.0" y2="179.31" stroke="#cae1d9" stroke-width="1"/>
<line x1="368.0" y1="202.44" x2="376.0" y2="202.44" stroke="#cae1d9" stroke-width="1"/>
<line x1="368.0" y1="225.57" x2="376.0" y2="225.57" stroke="#cae1d9" stroke-width="1"/>
<line x1="368.0" y1="248.70" x2="376.0" y2="248.70" stroke="#d1ddd9" stroke-width="1"/>
<line x1="376.0" y1="133.05" x2="384.0" y2="133.05" stroke="#f8c9d9" stroke-width="1"/>
<line x1="376.0" y1="156.18" x2="384.0" y2="156.18" stroke="#f2ccd9" stroke-width="1"/>
<line x1="376.0" y1="179.31" x2="384.0" y2="179.31" stroke="#dfd6d9" stroke-width="1"/>
<line x1="376.0" y1="202.44" x2="384.0" y2="202.44" stroke="#dfd6d9" stroke-width="1"/>
<line x1="376.0" y1="225.57" x2="384.0" y2="225.57" stroke="#dfd6d9" stroke-width="1"/>
<line x1="376.0" y1="248.70" x2="384.0" y2="248.70" stroke="#dcd7d9" stroke-width="1"/>
<line x1="384.0" y1="133.05" x2="392.0" y2="133.05" stroke="#ffc1d9" stroke-width="1"/>
<line x1="384.0" y1="156.18" x2="392.0" y2="156.18" stroke="#ffc1d9" stroke-width="1"/>
<line x1="384.0" y1="179.31" x2="392.0" y2="179.31" stroke="#ffc1d9" stroke-width="1"/>
<line x1="384.0" y1="202.44" x2="392.0" y2="202.44" stroke="#ffc1d9" stroke-width="1"/>
<line x1="384.0" y1="225.57" x2="392.0" y2="225.57" stroke="#ffc1d9" stroke-width="1"/>
<line x1="384.0" y1="248.70" x2="392.0" y2="248.70" stroke="#f3ccd9" stroke-width="1"/>
<line x1="400.0" y1="156.18" x2="408.0" y2="156.18" stroke="#d5dbd9" stroke-width="1"/>
<line x1="400.0" y1="179.31" x2="408.0" y2="179.31" stroke="#b4ecd9" stroke-width="1"/>
<line x1="400.0" y1="202.44" x2="408.0" y2="202.44" stroke="#b4ecd9" stroke-width="1"/>
<line x1="400.0" y1="225.57" x2="408.0" y2="225.57" stroke="#b4ecd9" stroke-width="1"/>
<line x1="400.0" y1="248.70" x2="408.0" y2="248.70" stroke="#c5e3d9" stroke-width="1"/>
<line x1="408.0" y1="133.05" x2="416.0" y2="133.05" stroke="#ffb4d9" stroke-width="1"/>
<line x1="408.0" y1="156.18" x2="416.0" y2="156.18" stroke="#ffb4d9" stroke-width="1"/>
<line x1="408.0" y1="179.31" x2="416.0" y2="179.31" stroke="#ffb5d9" stroke-width="1"/>
<line x1="408.0" y1="202.44" x2="416.0" y2="202.44" stroke="#ffb5d9" stroke-width="1"/>
<line x1="408.0" y1="225.57" x2="416.0" y2="225.57" stroke="#ffb5d9" stroke-width="1"/>
<line x1="408.0" y1="248.70" x2="416.0" y2="248.70" stroke="#ffc6d9" stroke-width="1"/>
<line x1="416.0" y1="133.05" x2="424.0" y2="133.05" stroke="#ded6d9" stroke-width="1"/>
<line x1="416.0" y1="156.18" x2="424.0" y2="156.18" stroke="#ded6d9" stroke-width="1"/>
<line x1="416.0" y1="179.31" x2="424.0" y2="179.31" stroke="#ded6d9" stroke-width="1"/>
<line x1="416.0" y1="202.44" x2="424.0" y2="202.44" stroke="#ded6d9" stroke-width="1"/>
<line x1="416.0" y1="225.57" x2="424.0" y2="225.57" stroke="#ded6d9" stroke-width="1"/>
<line x1="424.0" y1="179.31" x2="432.0" y2="179.31" stroke="#c9e1d9" stroke-width="1"/>
<line x1="424.0" y1="202.44" x2="432.0" y2="202.44" stroke="#c7e2d9" stroke-width="1"/>
<line x1="424.0" y1="225.57" x2="432.0" y2="225.57" stroke="#c7e2d9" stroke-width="1"/>
<line x1="424.0" y1="248.70" x2="432.0" y2="248.70" stroke="#cfded9" stroke-width="1"/>
<line x1="432.0" y1="133.05" x2="440.0" y2="133.05" stroke="#fdc7d9" stroke-width="1"/>
<line x1="432.0" y1="156.18" x2="440.0" y2="156.18" stroke="#fdc7d9" stroke-width="1"/>
<line x1="432.0" y1="179.31" x2="440.0" y2="179.31" stroke="#ead1d9" stroke-width="1"/>
<line x1="432.0" y1="202.44" x2="440.0" y2="202.44" stroke="#e8d2d9" stroke-width="1"/>
<line x1="432.0" y1="225.57" x2="440.0" y2="225.57" stroke="#e8d2d9" stroke-width="1"/>
<line x1="432.0" y1="248.70" x2="440.0" y2="248.70" stroke="#e1d5d9" stroke-width="1"/>
<line x1="440.0" y1="133.05" x2="448.0" y2="133.05" stroke="#ffc4d9" stroke-width="1"/>
<line x1="440.0" y1="156.18" x2="448.0" y2="156.18" stroke="#ffc4d9" stroke-width="1"/>
<line x1="440.0" y1="179.31" x2="448.0" y2="179.31" stroke="#ffc4d9" stroke-width="1"/>
<line x1="440.0" y1="202.44" x2="448.0" y2="202.44" stroke="#ffc4d9" stroke-width="1"/>
<line x1="440.0" y1="225.57" x2="448.0" y2="225.57" stroke="#ffc4d9" stroke-width="1"/>
<line x1="440.0" y1="248.70" x2="448.0" y2="248.70" stroke="#f0cdd9" stroke-width="1"/>
<line x1="456.0" y1="156.18" x2="464.0" y2="156.18" stroke="#bee7d9" stroke-width="1"/>
<line x1="456.0" y1="179.31" x2="464.0" y2="179.31" stroke="#b1edd9" stroke-width="1"/>
<line x1="456.0" y1="202.44" x2="464.0" y2="202.44" stroke="#b1edd9" stroke-width="1"/>
<line x1="456.0" y1="225.57" x2="464.0" y2="225.57" stroke="#b1edd9" stroke-width="1"/>
<line x1="456.0" y1="248.70" x2="464.0" y2="248.70" stroke="#c3e4d9" stroke-width="1"/>
<line x1="464.0" y1="86.79" x2="472.0" y2="86.79" stroke="#ffb1d9" stroke-width="1"/>
<line x1="464.0" y1="109.92" x2="472.0" y2="109.92" stroke="#ffb1d9" stroke-width="1"/>
<line x1="464.0" y1="133.05" x2="472.0" y2="133.05" stroke="#ffb1d9" stroke-width="1"/>
<line x1="464.0" y1="156.18" x2="472.0" y2="156.18" stroke="#ffb1d9" stroke-width="1"/>
<line x1="464.0" y1="179.31" x2="472.0" y2="179.31" stroke="#ffb1d9" stroke-width="1"/>
<line x1="464.0" y1="202.44" x2="472.0" y2="202.44" stroke="#ffb1d9" stroke-width="1"/>
<line x1="464.0" y1="225.57" x2="472.0" y2="225.57" stroke="#ffb1d9" stroke-width="1"/>
<line x1="464.0" y1="248.70" x2="472.0" y2="248.70" stroke="#ffc3d9" stroke-width="1"/>
<line x1="480.0" y1="133.05" x2="488.0" y2="133.05" stroke="#d0ded9" stroke-width="1"/>
<line x1="480.0" y1="156.18" x2="488.0" y2="156.18" stroke="#c4e4d9" stroke-width="1"/>
<line x1="480.0" y1="179.31" x2="488.0" y2="179.31" stroke="#c4e4d9" stroke-width="1"/>
<line x1="480.0" y1="202.44" x2="488.0" y2="202.44" stroke="#c4e4d9" stroke-width="1"/>
<line x1="480.0" y1="225.57" x2="488.0" y2="225.57" stroke="#c4e4d9" stroke-width="1"/>
<line x1="480.0" y1="248.70" x2="488.0" y2="248.70" stroke="#cedfd9" stroke-width="1"/>
<line x1="488.0" y1="63.66" x2="496.0" y2="63.66" stroke="#e6d2d9" stroke-width="1"/>
<line x1="488.0" y1="86.79" x2="496.0" y2="86.79" stroke="#ffc4d9" stroke-width="1"/>
<line x1="488.0" y1="109.92" x2="496.0" y2="109.92" stroke="#ffc4d9" stroke-width="1"/>
<line x1="488.0" y1="133.05" x2="496.0" y2="133.05" stroke="#fac8d9" stroke-width="1"/>
<line x1="488.0" y1="156.18" x2="496.0" y2="156.18" stroke="#f0cdd9" stroke-width="1"/>
<line x1="488.0" y1="179.31" x2="496.0" y2="179.31" stroke="#f0cdd9" stroke-width="1"/>
<line x1="488.0" y1="202.44" x2="496.0" y2="202.44" stroke="#f0cdd9" stroke-width="1"/>
<line x1="488.0" y1="225.57" x2="496.0" y2="225.57" stroke="#f0cdd9" stroke-width="1"/>
<line x1="488.0" y1="248.70" x2="496.0" y2="248.70" stroke="#e5d3d9" stroke-width="1"/>
<line x1="496.0" y1="63.66" x2="504.0" y2="63.66" stroke="#e5d3d9" stroke-width="1"/>
<line x1="496.0" y1="86.79" x2="504.0" y2="86.79" stroke="#fdc7d9" stroke-width="1"/>
<line x1="496.0" y1="109.92" x2="504.0" y2="109.92" stroke="#fdc7d9" stroke-width="1"/>
<line x1="496.0" y1="133.05" x2="504.0" y2="133.05" stroke="#fdc7d9" stroke-width="1"/>
<line x1="496.0" y1="156.18" x2="504.0" y2="156.18" stroke="#fdc7d9" stroke-width="1"/>
<line x1="496.0" y1="179.31" x2="504.0" y2="179.31" stroke="#fdc7d9" stroke-width="1"/>
<line x1="496.0" y1="202.44" x2="504.0" y2="202.44" stroke="#fdc7d9" stroke-width="1"/>
<line x1="496.0" y1="225.57" x2="504.0" y2="225.57" stroke="#fdc7d9" stroke-width="1"/>
<line x1="496.0" y1="248.70" x2="504.0" y2="248.70" stroke="#edcfd9" stroke-width="1"/>
<line x1="512.0" y1="63.66" x2="520.0" y2="63.66" stroke="#ded7d9" stroke-width="1"/>
<line x1="512.0" y1="86.79" x2="520.0" y2="86.79" stroke="#ded6d9" stroke-width="1"/>
<line x1="512.0" y1="109.92" x2="520.0" y2="109.92" stroke="#ded6d9" stroke-width="1"/>
<line x1="512.0" y1="133.05" x2="520.0" y2="133.05" stroke="#ded6d9" stroke-width="1"/>
<line x1="512.0" y1="156.18" x2="520.0" y2="156.18" stroke="#bbe8d9" stroke-width="1"/>
<line x1="512.0" y1="179.31" x2="520.0" y2="179.31" stroke="#b9ead9" stroke-width="1"/>
<line x1="512.0" y1="202.44" x2="520.0" y2="202.44" stroke="#b9ead9" stroke-width="1"/>
<line x1="512.0" y1="225.57" x2="520.0" y2="225.57" stroke="#b9ead9" stroke-width="1"/>
<line x1="512.0" y1="248.70" x2="520.0" y2="248.70" stroke="#c7e2d9" stroke-width="1"/>
<line x1="520.0" y1="63.66" x2="528.0" y2="63.66" stroke="#ffb6d9" stroke-width="1"/>
<line x1="520.0" y1="86.79" x2="528.0" y2="86.79" stroke="#ffb4d9" stroke-width="1"/>
<line x1="520.0" y1="109.92" x2="528.0" y2="109.92" stroke="#ffb4d9" stroke-width="1"/>
<line x1="520.0" y1="133.05" x2="528.0" y2="133.05" stroke="#ffb4d9" stroke-width="1"/>
<line x1="520.0" y1="156.18" x2="528.0" y2="156.18" stroke="#ffb4d9" stroke-width="1"/>
<line x1="520.0" y1="179.31" x2="528.0" y2="179.31" stroke="#ffb4d9" stroke-width="1"/>
<line x1="520.0" y1="202.44" x2="528.0" y2="202.44" stroke="#ffb4d9" stroke-width="1"/>
<line x1="520.0" y1="225.57" x2="528.0" y2="225.57" stroke="#ffb4d9" stroke-width="1"/>
<line x1="520.0" y1="248.70" x2="528.0" y2="248.70" stroke="#ffc5d9" stroke-width="1"/>
<rect x="68.04" y="209.96" width="3.96" height="14.04" fill="#6672be"/>
<rect x="68.04" y="224.00" width="3.96" height="16.00" fill="#6374be"/>
<rect x="68.04" y="240.00" width="3.96" height="8.70" fill="#6c6fbe"/>
<rect x="72.00" y="209.96" width="3.96" height="14.04" fill="#8e5ebe"/>
<rect x="72.00" y="224.00" width="3.96" height="16.00" fill="#8b5fbe"/>
<rect x="72.00" y="240.00" width="3.96" height="8.70" fill="#8264be"/>
<rect x="75.96" y="205.56" width="4.04" height="2.44" fill="#77754d"/>
<rect x="75.96" y="208.00" width="4.04" height="16.00" fill="#876d4d"/>
<rect x="75.96" y="224.00" width="4.04" height="16.00" fill="#856e4d"/>
<rect x="75.96" y="240.00" width="4.04" height="8.70" fill="#7c734d"/>
<rect x="80.00" y="205.56" width="3.88" height="2.44" fill="#77754d"/>
<rect x="80.00" y="208.00" width="3.88" height="32.00" fill="#97654d"/>
<rect x="80.00" y="240.00" width="3.88" height="8.70" fill="#866e4d"/>
<rect x="95.76" y="189.72" width="0.24" height="2.28" fill="#776abe"/>
<rect x="95.76" y="192.00" width="0.24" height="48.00" fill="#766abe"/>
<rect x="95.76" y="240.00" width="0.24" height="8.70" fill="#776abe"/>
<rect x="96.00" y="189.72" width="7.68" height="2.28" fill="#726cbe"/>
<rect x="96.00" y="192.00" width="7.68" height="48.00" fill="#547cbe"/>
<rect x="96.00" y="240.00" width="7.68" height="8.70" fill="#6473be"/>
<rect x="103.68" y="189.72" width="0.32" height="2.28" fill="#6c7b4d"/>
<rect x="103.68" y="192.00" width="0.32" height="48.00" fill="#4e8a4d"/>
<rect x="103.68" y="240.00" width="0.32" height="8.70" fill="#5e824d"/>
<rect x="104.00" y="189.72" width="7.60" height="2.28" fill="#7c734d"/>
<rect x="104.00" y="192.00" width="7.60" height="48.00" fill="#bc524d"/>
<rect x="104.00" y="240.00" width="7.60" height="8.70" fill="#9a634d"/>
<rect x="123.48" y="202.44" width="4.52" height="5.56" fill="#6f6ebe"/>
<rect x="123.48" y="208.00" width="4.52" height="32.00" fill="#6175be"/>
<rect x="123.48" y="240.00" width="4.52" height="8.70" fill="#6b70be"/>
<rect x="128.00" y="202.44" width="3.40" height="5.56" fill="#9a58be"/>
<rect x="128.00" y="208.00" width="3.40" height="32.00" fill="#935bbe"/>
<rect x="128.00" y="240.00" width="3.40" height="8.70" fill="#8762be"/>
<rect x="131.40" y="193.77" width="4.60" height="14.23" fill="#94674d"/>
<rect x="131.40" y="208.00" width="4.60" height="32.00" fill="#8d6a4d"/>
<rect x="131.40" y="240.00" width="4.60" height="8.70" fill="#80704d"/>
<rect x="136.00" y="193.77" width="3.32" height="14.23" fill="#8e694d"/>
<rect x="136.00" y="208.00" width="3.32" height="32.00" fill="#92674d"/>
<rect x="136.00" y="240.00" width="3.32" height="8.70" fill="#836f4d"/>
<rect x="151.20" y="179.31" width="0.80" height="12.69" fill="#746bbe"/>
<rect x="151.20" y="192.00" width="0.80" height="48.00" fill="#736cbe"/>
<rect x="151.20" y="240.00" width="0.80" height="8.70" fill="#756bbe"/>
<rect x="152.00" y="179.31" width="7.12" height="12.69" fill="#6275be"/>
<rect x="152.00" y="192.00" width="7.12" height="48.00" fill="#5c77be"/>
<rect x="152.00" y="240.00" width="7.12" height="8.70" fill="#6871be"/>
<rect x="159.12" y="179.43" width="0.88" height="12.57" fill="#5c834d"/>
<rect x="159.12" y="192.00" width="0.88" height="48.00" fill="#56864d"/>
<rect x="159.12" y="240.00" width="0.88" height="8.70" fill="#62804d"/>
<rect x="160.00" y="179.43" width="7.04" height="12.57" fill="#a85c4d"/>
<rect x="160.00" y="192.00" width="7.04" height="48.00" fill="#b7554d"/>
<rect x="160.00" y="240.00" width="7.04" height="8.70" fill="#97654d"/>
<rect x="178.92" y="163.93" width="5.08" height="12.07" fill="#6473be"/>
<rect x="178.92" y="176.00" width="5.08" height="64.00" fill="#5e77be"/>
<rect x="178.92" y="240.00" width="5.08" height="8.70" fill="#6971be"/>
<rect x="184.00" y="163.93" width="2.84" height="12.07" fill="#905dbe"/>
<rect x="184.00" y="176.00" width="2.84" height="64.00" fill="#9c57be"/>
<rect x="184.00" y="240.00" width="2.84" height="8.70" fill="#8b5fbe"/>
<rect x="186.84" y="164.74" width="5.16" height="11.26" fill="#8a6b4d"/>
<rect x="186.84" y="176.00" width="5.16" height="64.00" fill="#96664d"/>
<rect x="186.84" y="240.00" width="5.16" height="8.70" fill="#856e4d"/>
<rect x="192.00" y="164.74" width="2.76" height="11.26" fill="#846e4d"/>
<rect x="192.00" y="176.00" width="2.76" height="64.00" fill="#8c6a4d"/>
<rect x="192.00" y="240.00" width="2.76" height="8.70" fill="#80714d"/>
<rect x="206.64" y="157.80" width="1.36" height="2.20" fill="#766abe"/>
<rect x="206.64" y="160.00" width="1.36" height="80.00" fill="#706dbe"/>
<rect x="206.64" y="240.00" width="1.36" height="8.70" fill="#746bbe"/>
<rect x="208.00" y="157.80" width="6.56" height="2.20" fill="#7b68be"/>
<rect x="208.00" y="160.00" width="6.56" height="80.00" fill="#6473be"/>
<rect x="208.00" y="240.00" width="6.56" height="8.70" fill="#6d6fbe"/>
<rect x="214.56" y="150.51" width="1.44" height="9.49" fill="#75764d"/>
<rect x="214.56" y="160.00" width="1.44" height="80.00" fill="#5e824d"/>
<rect x="214.56" y="240.00" width="1.44" height="8.70" fill="#677d4d"/>
<rect x="216.00" y="150.51" width="6.48" height="9.49" fill="#97654d"/>
<rect x="216.00" y="160.00" width="6.48" height="80.00" fill="#b1584d"/>
<rect x="216.00" y="240.00" width="6.48" height="8.70" fill="#94664d"/>
<rect x="234.36" y="155.14" width="5.64" height="4.86" fill="#6f6ebe"/>
<rect x="234.36" y="160.00" width="5.64" height="80.00" fill="#5b78be"/>
<rect x="234.36" y="240.00" width="5.64" height="8.70" fill="#6871be"/>
<rect x="240.00" y="155.14" width="2.28" height="4.86" fill="#ac4fbe"/>
<rect x="240.00" y="160.00" width="2.28" height="80.00" fill="#a453be"/>
<rect x="240.00" y="240.00" width="2.28" height="8.70" fill="#905dbe"/>
<rect x="242.28" y="141.96" width="5.72" height="2.04" fill="#78744d"/>
<rect x="242.28" y="144.00" width="5.72" height="16.00" fill="#a65d4d"/>
<rect x="242.28" y="160.00" width="5.72" height="80.00" fill="#9e614d"/>
<rect x="242.28" y="240.00" width="5.72" height="8.70" fill="#8a6c4d"/>
<rect x="248.00" y="141.96" width="2.20" height="2.04" fill="#74774d"/>
<rect x="248.00" y="144.00" width="2.20" height="96.00" fill="#876d4d"/>
<rect x="248.00" y="240.00" width="2.20" height="8.70" fill="#7d724d"/>
<rect x="262.08" y="156.41" width="1.92" height="3.59" fill="#756bbe"/>
<rect x="262.08" y="160.00" width="1.92" height="80.00" fill="#6e6ebe"/>
<rect x="262.08" y="240.00" width="1.92" height="8.70" fill="#726cbe"/>
<rect x="264.00" y="156.41" width="6.00" height="3.59" fill="#8463be"/>
<rect x="264.00" y="160.00" width="6.00" height="80.00" fill="#6d6fbe"/>
<rect x="264.00" y="240.00" width="6.00" height="8.70" fill="#726cbe"/>
<rect x="270.00" y="126.57" width="2.00" height="1.43" fill="#73774d"/>
<rect x="270.00" y="128.00" width="2.00" height="16.00" fill="#856e4d"/>
<rect x="270.00" y="144.00" width="2.00" height="16.00" fill="#7e724d"/>
<rect x="270.00" y="160.00" width="2.00" height="80.00" fill="#677d4d"/>
<rect x="270.00" y="240.00" width="2.00" height="8.70" fill="#6b7b4d"/>
<rect x="272.00" y="126.57" width="5.92" height="1.43" fill="#76764d"/>
<rect x="272.00" y="128.00" width="5.92" height="112.00" fill="#ab5a4d"/>
<rect x="272.00" y="240.00" width="5.92" height="8.70" fill="#91684d"/>
<rect x="289.80" y="194.00" width="6.20" height="14.00" fill="#5c77be"/>
<rect x="289.80" y="208.00" width="6.20" height="32.00" fill="#5879be"/>
<rect x="289.80" y="240.00" width="6.20" height="8.70" fill="#6672be"/>
<rect x="296.00" y="194.00" width="1.72" height="14.00" fill="#ae4ebe"/>
<rect x="296.00" y="208.00" width="1.72" height="32.00" fill="#ac4ebe"/>
<rect x="296.00" y="240.00" width="1.72" height="8.70" fill="#945bbe"/>
<rect x="297.72" y="68.52" width="6.28" height="11.48" fill="#9e624d"/>
<rect x="297.72" y="80.00" width="6.28" height="112.00" fill="#af594d"/>
<rect x="297.72" y="192.00" width="6.28" height="16.00" fill="#a75c4d"/>
<rect x="297.72" y="208.00" width="6.28" height="32.00" fill="#a65d4d"/>
<rect x="297.72" y="240.00" width="6.28" height="8.70" fill="#8e694d"/>
<rect x="304.00" y="68.52" width="1.64" height="11.48" fill="#7d724d"/>
<rect x="304.00" y="80.00" width="1.64" height="160.00" fill="#81704d"/>
<rect x="304.00" y="240.00" width="1.64" height="8.70" fill="#7a744d"/>
<rect x="317.52" y="200.94" width="2.48" height="7.06" fill="#726cbe"/>
<rect x="317.52" y="208.00" width="2.48" height="32.00" fill="#6b70be"/>
<rect x="317.52" y="240.00" width="2.48" height="8.70" fill="#706dbe"/>
<rect x="320.00" y="200.94" width="5.44" height="7.06" fill="#8463be"/>
<rect x="320.00" y="208.00" width="5.44" height="32.00" fill="#756bbe"/>
<rect x="320.00" y="240.00" width="5.44" height="8.70" fill="#766abe"/>
<rect x="325.44" y="142.53" width="2.56" height="1.47" fill="#73774d"/>
<rect x="325.44" y="144.00" width="2.56" height="48.00" fill="#8a6b4d"/>
<rect x="325.44" y="192.00" width="2.56" height="16.00" fill="#7e714d"/>
<rect x="325.44" y="208.00" width="2.56" height="32.00" fill="#6f794d"/>
<rect x="325.44" y="240.00" width="2.56" height="8.70" fill="#70794d"/>
<rect x="328.00" y="142.53" width="5.36" height="1.47" fill="#76764d"/>
<rect x="328.00" y="144.00" width="5.36" height="96.00" fill="#a65d4d"/>
<rect x="328.00" y="240.00" width="5.36" height="8.70" fill="#8e6a4d"/>
<rect x="345.24" y="179.31" width="6.76" height="12.69" fill="#5c77be"/>
<rect x="345.24" y="192.00" width="6.76" height="48.00" fill="#557bbe"/>
<rect x="345.24" y="240.00" width="6.76" height="8.70" fill="#6573be"/>
<rect x="352.00" y="179.31" width="1.16" height="12.69" fill="#b64abe"/>
<rect x="352.00" y="192.00" width="1.16" height="48.00" fill="#b54abe"/>
<rect x="352.00" y="240.00" width="1.16" height="8.70" fill="#9958be"/>
<rect x="353.16" y="139.53" width="6.84" height="4.47" fill="#846f4d"/>
<rect x="353.16" y="144.00" width="6.84" height="32.00" fill="#b5564d"/>
<rect x="353.16" y="176.00" width="6.84" height="16.00" fill="#b0584d"/>
<rect x="353.16" y="192.00" width="6.84" height="48.00" fill="#af594d"/>
<rect x="353.16" y="240.00" width="6.84" height="8.70" fill="#93674d"/>
<rect x="360.00" y="139.53" width="1.08" height="4.47" fill="#74774d"/>
<rect x="360.00" y="144.00" width="1.08" height="96.00" fill="#7c734d"/>
<rect x="360.00" y="240.00" width="1.08" height="8.70" fill="#77754d"/>
<rect x="372.96" y="156.41" width="3.04" height="3.59" fill="#746bbe"/>
<rect x="372.96" y="160.00" width="3.04" height="80.00" fill="#6871be"/>
<rect x="372.96" y="240.00" width="3.04" height="8.70" fill="#6f6ebe"/>
<rect x="376.00" y="156.41" width="4.88" height="3.59" fill="#905dbe"/>
<rect x="376.00" y="160.00" width="4.88" height="80.00" fill="#7d66be"/>
<rect x="376.00" y="240.00" width="4.88" height="8.70" fill="#7b68be"/>
<rect x="380.88" y="127.50" width="3.12" height="0.50" fill="#72784d"/>
<rect x="380.88" y="128.00" width="3.12" height="16.00" fill="#90694d"/>
<rect x="380.88" y="144.00" width="3.12" height="16.00" fill="#8a6b4d"/>
<rect x="380.88" y="160.00" width="3.12" height="80.00" fill="#77754d"/>
<rect x="380.88" y="240.00" width="3.12" height="8.70" fill="#75764d"/>
<rect x="384.00" y="127.50" width="4.80" height="0.50" fill="#73774d"/>
<rect x="384.00" y="128.00" width="4.80" height="112.00" fill="#a0604d"/>
<rect x="384.00" y="240.00" width="4.80" height="8.70" fill="#8b6b4d"/>
<rect x="400.68" y="158.38" width="7.32" height="1.62" fill="#746bbe"/>
<rect x="400.68" y="160.00" width="7.32" height="80.00" fill="#527cbe"/>
<rect x="400.68" y="240.00" width="7.32" height="8.70" fill="#6374be"/>
<rect x="408.00" y="158.38" width="0.60" height="1.62" fill="#c045be"/>
<rect x="408.00" y="160.00" width="0.60" height="80.00" fill="#bd46be"/>
<rect x="408.00" y="240.00" width="0.60" height="8.70" fill="#9d56be"/>
<rect x="408.60" y="118.36" width="7.40" height="9.64" fill="#9d624d"/>
<rect x="408.60" y="128.00" width="7.40" height="32.00" fill="#ba534d"/>
<rect x="408.60" y="160.00" width="7.40" height="80.00" fill="#b7554d"/>
<rect x="408.60" y="240.00" width="7.40" height="8.70" fill="#97654d"/>
<rect x="416.00" y="118.36" width="0.52" height="9.64" fill="#74774d"/>
<rect x="416.00" y="128.00" width="0.52" height="112.00" fill="#76764d"/>
<rect x="416.00" y="240.00" width="0.52" height="8.70" fill="#74774d"/>
<rect x="428.40" y="177.58" width="3.60" height="14.42" fill="#6772be"/>
<rect x="428.40" y="192.00" width="3.60" height="48.00" fill="#6573be"/>
<rect x="428.40" y="240.00" width="3.60" height="8.70" fill="#6d6fbe"/>
<rect x="432.00" y="177.58" width="4.32" height="14.42" fill="#8861be"/>
<rect x="432.00" y="192.00" width="4.32" height="48.00" fill="#8662be"/>
<rect x="432.00" y="240.00" width="4.32" height="8.70" fill="#7f65be"/>
<rect x="436.32" y="117.09" width="3.68" height="10.91" fill="#8a6c4d"/>
<rect x="436.32" y="128.00" width="3.68" height="48.00" fill="#95664d"/>
<rect x="436.32" y="176.00" width="3.68" height="16.00" fill="#82704d"/>
<rect x="436.32" y="192.00" width="3.68" height="48.00" fill="#80714d"/>
<rect x="436.32" y="240.00" width="3.68" height="8.70" fill="#79744d"/>
<rect x="440.00" y="117.09" width="4.24" height="10.91" fill="#8e6a4d"/>
<rect x="440.00" y="128.00" width="4.24" height="112.00" fill="#9b634d"/>
<rect x="440.00" y="240.00" width="4.24" height="8.70" fill="#886d4d"/>
<rect x="456.12" y="149.24" width="7.88" height="10.76" fill="#5d77be"/>
<rect x="456.12" y="160.00" width="7.88" height="80.00" fill="#507ebe"/>
<rect x="456.12" y="240.00" width="7.88" height="8.70" fill="#6274be"/>
<rect x="464.00" y="149.24" width="0.04" height="90.76" fill="#c542be"/>
<rect x="464.00" y="240.00" width="0.04" height="8.70" fill="#a254be"/>
<rect x="464.04" y="79.97" width="7.92" height="0.03" fill="#71784d"/>
<rect x="464.04" y="80.00" width="7.92" height="80.00" fill="#bf504d"/>
<rect x="464.04" y="160.00" width="7.92" height="80.00" fill="#bf514d"/>
<rect x="464.04" y="240.00" width="7.92" height="8.70" fill="#9b634d"/>
<rect x="483.84" y="136.98" width="4.16" height="7.02" fill="#6e6ebe"/>
<rect x="483.84" y="144.00" width="4.16" height="96.00" fill="#6274be"/>
<rect x="483.84" y="240.00" width="4.16" height="8.70" fill="#6c6fbe"/>
<rect x="488.00" y="136.98" width="3.76" height="7.02" fill="#9958be"/>
<rect x="488.00" y="144.00" width="3.76" height="96.00" fill="#8e5ebe"/>
<rect x="488.00" y="240.00" width="3.76" height="8.70" fill="#8463be"/>
<rect x="491.76" y="58.92" width="4.24" height="5.08" fill="#7e714d"/>
<rect x="491.76" y="64.00" width="4.24" height="64.00" fill="#9b634d"/>
<rect x="491.76" y="128.00" width="4.24" height="16.00" fill="#93674d"/>
<rect x="491.76" y="144.00" width="4.24" height="96.00" fill="#886d4d"/>
<rect x="491.76" y="240.00" width="4.24" height="8.70" fill="#7e724d"/>
<rect x="496.00" y="58.92" width="3.68" height="5.08" fill="#7d724d"/>
<rect x="496.00" y="64.00" width="3.68" height="176.00" fill="#95664d"/>
<rect x="496.00" y="240.00" width="3.68" height="8.70" fill="#856e4d"/>
<rect x="511.56" y="144.96" width="0.44" height="95.04" fill="#756bbe"/>
<rect x="511.56" y="240.00" width="0.44" height="8.70" fill="#766abe"/>
<rect x="512.00" y="144.96" width="7.48" height="15.04" fill="#5979be"/>
<rect x="512.00" y="160.00" width="7.48" height="80.00" fill="#577abe"/>
<rect x="512.00" y="240.00" width="7.48" height="8.70" fill="#6673be"/>
<rect x="519.48" y="49.09" width="0.52" height="94.91" fill="#76764d"/>
<rect x="519.48" y="144.00" width="0.52" height="16.00" fill="#53884d"/>
<rect x="519.48" y="160.00" width="0.52" height="80.00" fill="#51894d"/>
<rect x="519.48" y="240.00" width="0.52" height="8.70" fill="#5f814d"/>
<rect x="520.00" y="49.09" width="7.40" height="14.91" fill="#b5564d"/>
<rect x="520.00" y="64.00" width="7.40" height="176.00" fill="#ba534d"/>
<rect x="520.00" y="240.00" width="7.40" height="8.70" fill="#99644d"/>
<rect x="173.00" y="308.20" width="3.00" height="5.50" fill="#726cbe"/>
<rect x="176.00" y="308.20" width="2.30" height="5.50" fill="#736cbe"/>
<rect x="286.20" y="308.20" width="1.80" height="5.50" fill="#77754d"/>
<rect x="288.00" y="308.20" width="3.50" height="5.50" fill="#7d724d"/>
<rect x="72" y="240" width="3.96" height="6.00" fill="#3f86be"/>
<rect x="75.96" y="240" width="4.04" height="6.00" fill="#3f924d"/>
<rect x="72" y="246" width="3.96" height="2.70" fill="#ab4fbe"/>
<rect x="75.96" y="246" width="4.04" height="2.70" fill="#ac5a4d"/>
<rect x="95.76" y="240" width="4.24" height="8.70" fill="#4285be"/>
<rect x="100" y="244" width="3.68" height="4.70" fill="#965abe"/>
<rect x="103.68" y="244" width="4.32" height="4.70" fill="#dd414d"/>
<rect x="108" y="240" width="3.60" height="8.70" fill="#82704d"/>
<rect x="151.2" y="240" width="4.80" height="8.70" fill="#378abe"/>
<rect x="156" y="240" width="3.12" height="8.70" fill="#965abe"/>
<rect x="159.12" y="240" width="4.88" height="8.70" fill="#d3464d"/>
<rect x="164" y="240" width="3.04" height="8.70" fill="#7b734d"/>
<rect x="216" y="238" width="6.48" height="2.00" fill="#eb3a4d"/>
<rect x="242.28" y="224" width="5.72" height="16.00" fill="#b4564d"/>
<rect x="272" y="133" width="2.00" height="11.50" fill="#eb3a4d"/>
<text x="52.4" y="251.70" font-size="9.5" text-anchor="end">0</text>
<text x="52.4" y="228.57" font-size="9.5" text-anchor="end">20</text>
<text x="52.4" y="205.44" font-size="9.5" text-anchor="end">40</text>
<text x="52.4" y="182.31" font-size="9.5" text-anchor="end">60</text>
<text x="52.4" y="159.18" font-size="9.5" text-anchor="end">80</text>
<text x="52.4" y="136.05" font-size="9.5" text-anchor="end">100</text>
<text x="52.4" y="112.92" font-size="9.5" text-anchor="end">120</text>
<text x="52.4" y="89.79" font-size="9.5" text-anchor="end">140</text>
<text x="52.4" y="66.66" font-size="9.5" text-anchor="end">160</text>
<text x="52.4" y="43.53" font-size="9.5" text-anchor="end">180</text>
<text x="52.4" y="20.40" font-size="9.5" text-anchor="end">200</text>
<text x="75.96" y="265.9" font-size="9.5" text-anchor="middle">2007</text>
<text x="103.68" y="265.9" font-size="9.5" text-anchor="middle">2008</text>
<text x="131.40" y="265.9" font-size="9.5" text-anchor="middle">2009</text>
<text x="159.12" y="265.9" font-size="9.5" text-anchor="middle">2010</text>
<text x="186.84" y="265.9" font-size="9.5" text-anchor="middle">2011</text>
<text x="214.56" y="265.9" font-size="9.5" text-anchor="middle">2012</text>
<text x="242.28" y="265.9" font-size="9.5" text-anchor="middle">2013</text>
<text x="270.00" y="265.9" font-size="9.5" text-anchor="middle">2014</text>
<text x="297.72" y="265.9" font-size="9.5" text-anchor="middle">2015</text>
<text x="325.44" y="265.9" font-size="9.5" text-anchor="middle">2016</text>
<text x="353.16" y="265.9" font-size="9.5" text-anchor="middle">2017</text>
<text x="380.88" y="265.9" font-size="9.5" text-anchor="middle">2018</text>
<text x="408.60" y="265.9" font-size="9.5" text-anchor="middle">2019</text>
<text x="436.32" y="265.9" font-size="9.5" text-anchor="middle">2020</text>
<text x="464.04" y="265.9" font-size="9.5" text-anchor="middle">2021</text>
<text x="491.76" y="265.9" font-size="9.5" text-anchor="middle">2022</text>
<text x="519.48" y="265.9" font-size="9.5" text-anchor="middle">2023</text>
<text x="287.4" y="283.6" font-size="10" textLength="20.6" lengthAdjust="spacingAndGlyphs">Year</text>
<text x="181.4" y="314.6" font-size="10" textLength="87.6" lengthAdjust="spacingAndGlyphs">Total import, US$ bn</text>
<text x="294.6" y="314.6" font-size="10" textLength="86.8" lengthAdjust="spacingAndGlyphs">Total export, US$ bn</text>
<text transform="translate(30.0,237.7) rotate(-90)" font-size="10" textLength="62.8" lengthAdjust="spacingAndGlyphs">China-Africa</text>
<text transform="translate(30.0,170.4) rotate(-90)" font-size="10" textLength="18.1" lengthAdjust="spacingAndGlyphs">trade</text>
<text transform="translate(30.0,148.0) rotate(-90)" font-size="10" textLength="28.7" lengthAdjust="spacingAndGlyphs">Trade</text>
<text transform="translate(30.0,116.3) rotate(-90)" font-size="10" textLength="6.8" lengthAdjust="spacingAndGlyphs">in</text>
<text transform="translate(30.0,106.8) rotate(-90)" font-size="10" textLength="46.3" lengthAdjust="spacingAndGlyphs">billioTrade</text>
<text transform="translate(30.0,50.9) rotate(-90)" font-size="10" textLength="22.1" lengthAdjust="spacingAndGlyphs">USD)</text>
</svg>
</body></html>
